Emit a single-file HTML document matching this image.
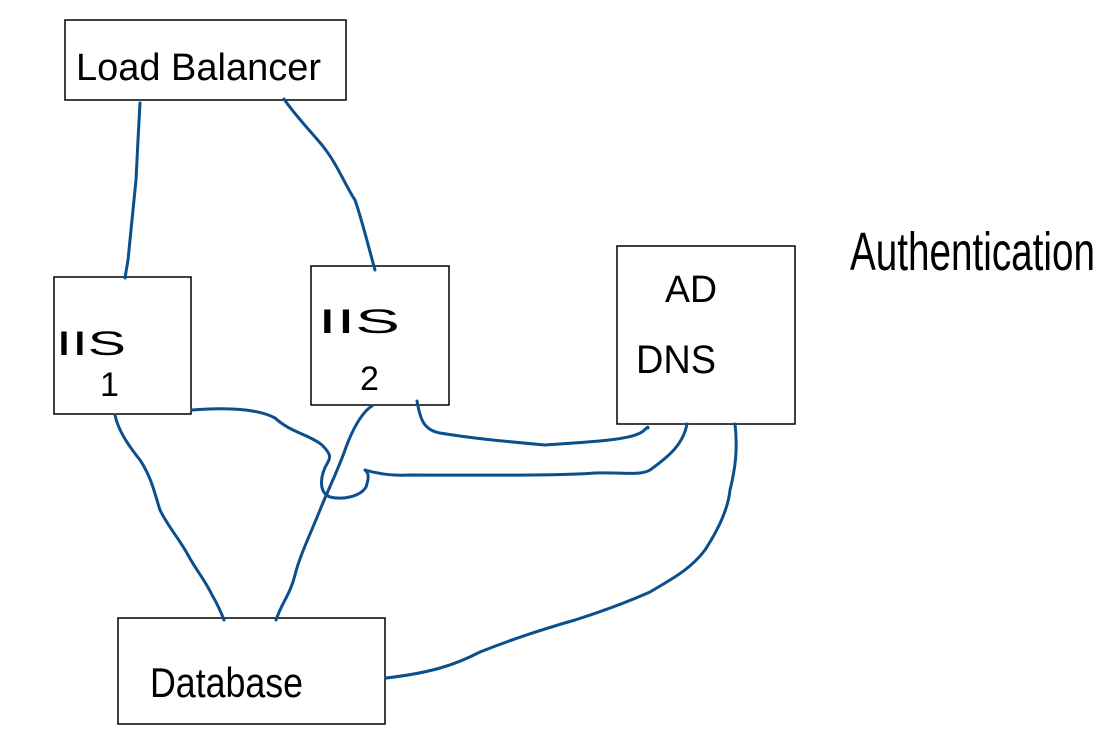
<!DOCTYPE html>
<html><head><style>
html,body{margin:0;padding:0;background:#fff;width:1118px;height:750px;overflow:hidden}
</style></head><body>
<svg width="1118" height="750" viewBox="0 0 1118 750" xmlns="http://www.w3.org/2000/svg">
<rect x="0" y="0" width="1118" height="750" fill="#fff"/>
<g fill="none" stroke="#000" stroke-width="1.5">
<rect x="65" y="20" width="281" height="80"/>
<rect x="54" y="277" width="137" height="137"/>
<rect x="311" y="266" width="138" height="139"/>
<rect x="617" y="246" width="178" height="178"/>
<rect x="118" y="618" width="267" height="106"/>
</g>
<g fill="none" stroke="#0b4f8c" stroke-width="3" stroke-linecap="round" stroke-linejoin="round">
<path d="M140,103 L138,140 L136,180 L131,230 L128,260 L125,278"/>
<path d="M284,99 C295,115 305,125 322,145 C338,165 345,185 355,200 C362,220 368,245 375,270"/>
<path d="M192,410 C215,408 255,407 275,418 C290,432 310,435 322,445 C332,455 330,458 328,462 C320,475 318,492 330,497 C342,500 360,497 366,487 C369,478 369,473 365,470 C375,473 390,476 410,475 C470,475 560,476 595,473 C620,472 640,476 650,470 C668,457 683,445 687,424"/>
<path d="M417,401 C420,418 423,430 440,433 C470,438 500,441 545,445 C590,442 630,440 642,432 C647,428 648,426 648,428"/>
<path d="M115,415 C118,430 128,445 140,460 C152,478 155,495 160,510 C167,525 180,540 188,555 C196,570 205,580 212,595 C218,605 221,612 224,620"/>
<path d="M372,406 C362,412 352,430 345,450 C338,470 328,490 320,510 C310,535 300,555 295,575 C290,595 282,602 276,620"/>
<path d="M735,424 C738,450 735,470 730,490 C728,510 718,530 705,550 C690,570 670,580 650,592 C625,603 600,612 575,620 C540,630 510,640 480,652 C455,665 430,673 386,678"/>
</g>
<g font-family="Liberation Sans, sans-serif" fill="#000" font-weight="normal">
<text x="76" y="80" font-size="38" textLength="245" lengthAdjust="spacingAndGlyphs">Load Balancer</text>
<text x="56" y="355" font-size="34" textLength="70" lengthAdjust="spacingAndGlyphs">IIS</text>
<text x="100" y="396" font-size="34">1</text>
<text x="318" y="333" font-size="34" textLength="82" lengthAdjust="spacingAndGlyphs">IIS</text>
<text x="360" y="390" font-size="34">2</text>
<text x="665" y="302" font-size="38" textLength="52" lengthAdjust="spacingAndGlyphs">AD</text>
<text x="636" y="373" font-size="40" textLength="80" lengthAdjust="spacingAndGlyphs">DNS</text>
<text x="150" y="697" font-size="42" textLength="153" lengthAdjust="spacingAndGlyphs">Database</text>
<text x="850" y="270" font-size="54" textLength="245" lengthAdjust="spacingAndGlyphs">Authentication</text>
</g>
</svg>
</body></html>
